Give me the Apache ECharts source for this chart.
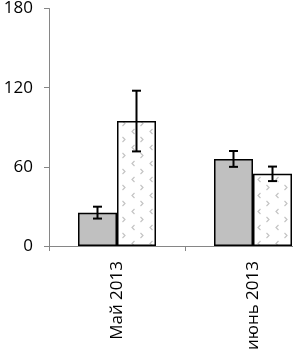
<!DOCTYPE html>
<html><head><meta charset="utf-8">
<script src="https://cdn.jsdelivr.net/npm/echarts@6/dist/echarts.min.js"></script>
<style>html,body{margin:0;padding:0;background:#fff;overflow:hidden;width:293px;height:353px}#c{width:321px;height:353px}</style>
</head><body><div id="c"></div>
<script>
var categories = ['Май 2013', 'июнь 2013'];
var seriesA = [25.3, 66];
var errorA = [4.5, 6];
var seriesB = [94.7, 54.7];
var errorB = [23, 5.5];
var yTicks = [0, 60, 120, 180];

function makePattern() {
  var c = document.createElement('canvas');
  c.width = 18; c.height = 16;
  var g = c.getContext('2d');
  g.fillStyle = '#fff'; g.fillRect(0, 0, 18, 16);
  g.strokeStyle = '#c4c4c4'; g.lineWidth = 1.2;
  g.beginPath();
  g.moveTo(8.5, 1); g.lineTo(6, 3.5); g.lineTo(8.5, 6);
  g.moveTo(14.5, 9); g.lineTo(17, 11.5); g.lineTo(14.5, 14);
  g.stroke();
  return c;
}

var chart = echarts.init(document.getElementById('c'));
var FONT = '"Open Sans", Lato, sans-serif';
var BW = 39;

function errRender(vals, errs, dir) {
  return function (params, api) {
    var i = api.value(0);
    var v = vals[i], e = errs[i];
    var top = api.coord([i, v + e]);
    var bot = api.coord([i, v - e]);
    var x = top[0] + dir * BW / 2;
    var cap = 4.5;
    var st = { stroke: '#000', lineWidth: 2 };
    return { type: 'group', children: [
      { type: 'line', shape: { x1: x, y1: top[1], x2: x, y2: bot[1] }, style: st },
      { type: 'line', shape: { x1: x - cap, y1: top[1], x2: x + cap, y2: top[1] }, style: st },
      { type: 'line', shape: { x1: x - cap, y1: bot[1], x2: x + cap, y2: bot[1] }, style: st }
    ]};
  };
}

chart.setOption({
  animation: false,
  grid: { left: 49, right: 0, top: 7, bottom: 106 },
  xAxis: {
    type: 'category', data: categories,
    axisLine: { lineStyle: { color: '#868686', width: 1 } },
    axisTick: { show: true, length: 5, lineStyle: { color: '#868686' } },
    axisLabel: { rotate: 90, margin: 15, color: '#000', fontSize: 17, fontFamily: FONT }
  },
  yAxis: {
    type: 'value', min: yTicks[0], max: yTicks[yTicks.length - 1], interval: 60,
    splitLine: { show: false },
    axisLine: { show: true, lineStyle: { color: '#868686', width: 1 } },
    axisTick: { show: true, length: 5, lineStyle: { color: '#868686' } },
    axisLabel: { margin: 16, color: '#000', fontSize: 17, fontFamily: FONT }
  },
  series: [
    { type: 'bar', data: seriesA, barWidth: BW, barGap: '0%',
      itemStyle: { color: '#c0c0c0', borderColor: '#000', borderWidth: 1.5 } },
    { type: 'bar', data: seriesB, barWidth: BW, barGap: '0%',
      itemStyle: { color: { image: makePattern(), repeat: 'repeat' }, borderColor: '#000', borderWidth: 1.5 } },
    { type: 'custom', data: [[0], [1]], renderItem: errRender(seriesA, errorA, -1), z: 5 },
    { type: 'custom', data: [[0], [1]], renderItem: errRender(seriesB, errorB, 1), z: 5 }
  ]
});
</script></body></html>
